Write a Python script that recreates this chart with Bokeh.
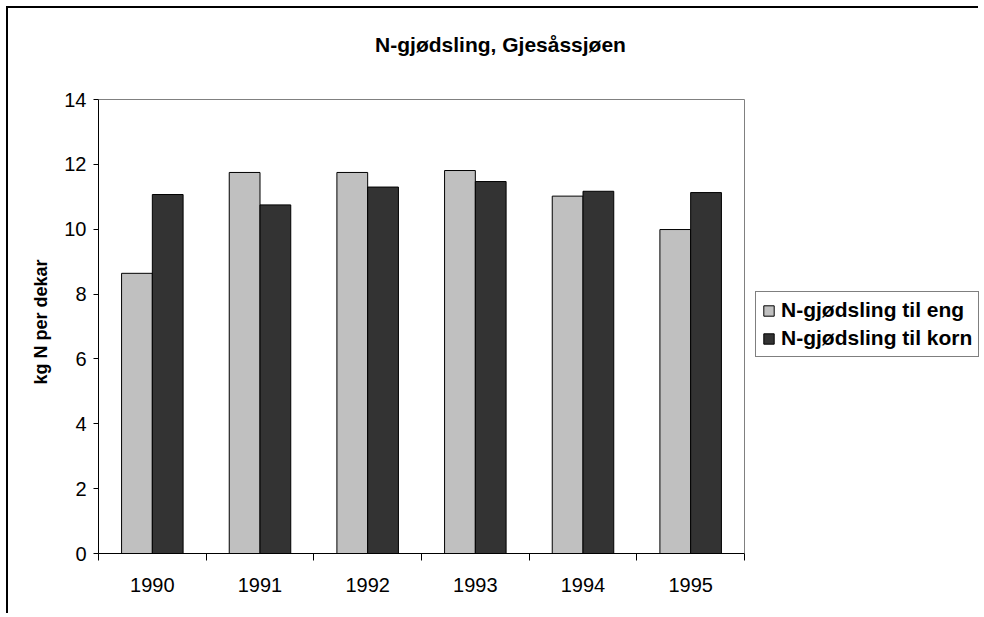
from bokeh.plotting import figure
from bokeh.models import ColumnDataSource, FixedTicker, Legend, LegendItem, Range1d, Label, Title
from bokeh.embed import file_html
from bokeh.resources import INLINE

# ---- data ----
years = ["1990", "1991", "1992", "1993", "1994", "1995"]
eng = [8.64, 11.75, 11.75, 11.81, 11.02, 9.99]
korn = [11.07, 10.75, 11.30, 11.47, 11.17, 11.13]
series_names = ["N-gjødsling til eng", "N-gjødsling til korn"]
y_ticks = [0, 2, 4, 6, 8, 10, 12, 14]
title_text = "N-gjødsling, Gjesåssjøen"
y_label = "kg N per dekar"

FONT = "Liberation Sans"
n = len(years)
ymax = y_ticks[-1]
bar_w = 1 / 3.5
centers = [i + 0.5 for i in range(n)]

# ---- layout (pixels inside the canvas) ----
W, H = 972, 607
F_LEFT, F_TOP, F_RIGHT, F_BOTTOM = 90, 0, 971, 545   # frame
PLOT_RIGHT, PLOT_TOP = 736, 91                        # plot area (axes box)
x_end = n * (F_RIGHT - F_LEFT) / (PLOT_RIGHT - F_LEFT)
y_end = ymax * (F_BOTTOM - F_TOP) / (F_BOTTOM - PLOT_TOP)

src = ColumnDataSource(dict(
    x_eng=[c - bar_w / 2 for c in centers],
    x_korn=[c + bar_w / 2 for c in centers],
    eng=eng, korn=korn,
))

p = figure(width=W, height=H,
           x_range=Range1d(0, x_end), y_range=Range1d(0, y_end),
           output_backend="svg", toolbar_location=None,
           min_border_left=F_LEFT, min_border_top=F_TOP,
           min_border_right=W - F_RIGHT, min_border_bottom=H - F_BOTTOM)
p.styles = {"border-left": "2px solid black", "border-top": "2px solid black",
            "margin-left": "6px", "margin-top": "6px"}

r1 = p.vbar(x="x_eng", top="eng", width=bar_w, bottom=0, source=src,
            fill_color="#C0C0C0", line_color="black", line_width=1)
r2 = p.vbar(x="x_korn", top="korn", width=bar_w, bottom=0, source=src,
            fill_color="#333333", line_color="black", line_width=1)

# plot-area top and right border (gray)
p.line(x=[0, n, n], y=[ymax, ymax, 0], line_color="#808080", line_width=1)

p.xgrid.visible = False
p.ygrid.visible = False
p.outline_line_color = None
p.background_fill_color = "white"
p.border_fill_color = "white"

# x axis
xa = p.xaxis[0]
xa.bounds = (0, n)
xa.ticker = FixedTicker(ticks=centers, minor_ticks=list(range(0, n + 1)))
xa.major_label_overrides = {c: y for c, y in zip(centers, years)}
xa.major_tick_out = 0
xa.major_tick_in = 0
xa.minor_tick_out = 7
xa.minor_tick_in = 0
xa.minor_tick_line_color = "black"
xa.axis_line_color = "black"
xa.major_label_standoff = 17
xa.major_label_text_font = FONT
xa.major_label_text_font_size = "20px"
xa.major_label_text_color = "black"

# y axis
ya = p.yaxis[0]
ya.bounds = (0, ymax)
ya.ticker = FixedTicker(ticks=y_ticks)
ya.major_tick_out = 5
ya.major_tick_in = 0
ya.minor_tick_out = 0
ya.minor_tick_in = 0
ya.axis_line_color = "black"
ya.major_tick_line_color = "black"
ya.major_label_standoff = 7
ya.major_label_text_font = FONT
ya.major_label_text_font_size = "20px"
ya.major_label_text_color = "black"

# y axis title, centred on the plot area (not the whole frame)
ytitle = Title(text=y_label, align="left", offset=169, standoff=22,
               vertical_align="bottom",
               text_font=FONT, text_font_size="18px", text_font_style="bold",
               text_color="black")
p.add_layout(ytitle, "left")

legend = Legend(items=[LegendItem(label=series_names[0], renderers=[r1]),
                       LegendItem(label=series_names[1], renderers=[r2])],
                location=(657, 196), orientation="vertical",
                border_line_color="black", border_line_width=1,
                background_fill_color="white", background_fill_alpha=1,
                padding=6, spacing=4, margin=0,
                label_height=24, glyph_height=13, glyph_width=13,
                label_standoff=6,
                label_text_font=FONT, label_text_font_size="21px",
                label_text_font_style="bold", label_text_color="black")
p.add_layout(legend, "center")

title = Label(x=402, y=509, x_units="screen", y_units="screen",
              text=title_text, text_align="center", text_baseline="middle",
              text_font=FONT, text_font_size="21px", text_font_style="bold",
              text_color="black")
p.add_layout(title)

open("out.html", "w").write(file_html(p, INLINE))
